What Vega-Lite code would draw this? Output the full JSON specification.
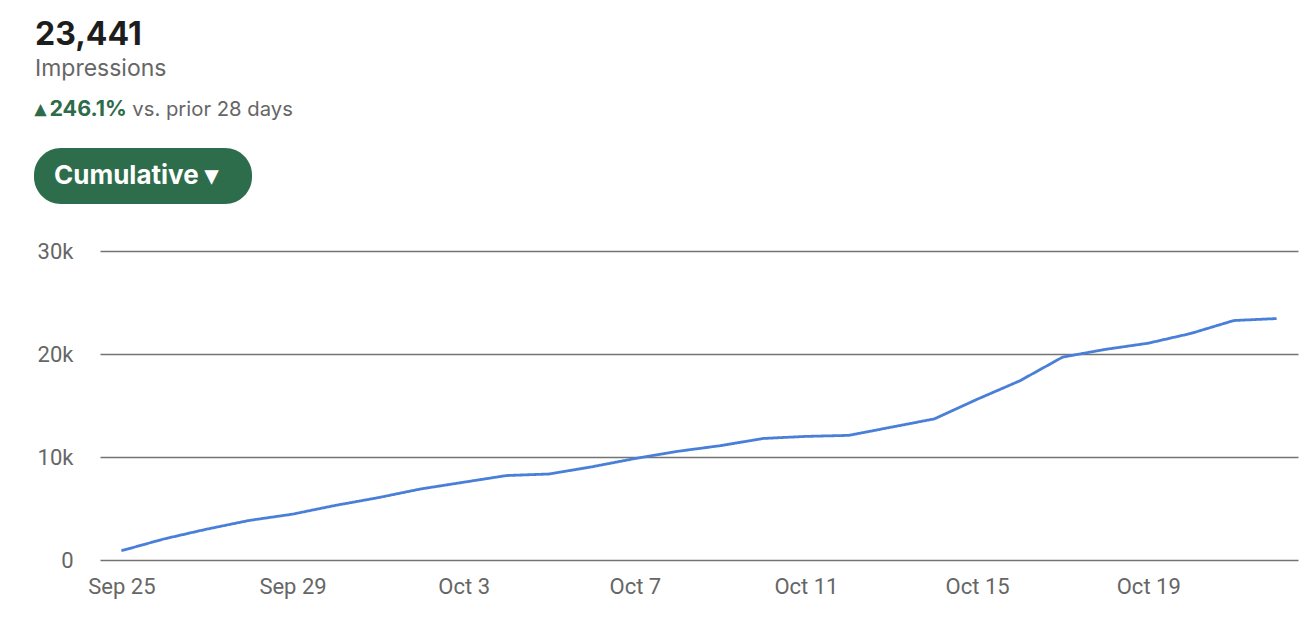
{
  "$schema": "https://vega.github.io/schema/vega-lite/v6.json",
  "autosize": {"type": "none"},
  "width": 1198,
  "height": 309,
  "padding": {"left": 100, "top": 251, "right": 10, "bottom": 70},
  "background": "white",
  "title": {
    "text": "23,441",
    "subtitle": "Impressions",
    "anchor": "start",
    "frame": "group",
    "dx": -65,
    "offset": 18,
    "font": "Inter",
    "fontSize": 32,
    "fontWeight": "bold",
    "color": "#1d1d1d",
    "subtitleFont": "Inter",
    "subtitleFontSize": 23,
    "subtitleColor": "#666666",
    "subtitlePadding": 6
  },
  "config": {"view": {"stroke": null}},
  "data": {
    "values": [
      {"date": "2023-09-25", "impressions": 900, "series": "Cumulative", "comparison": "vs. prior 28 days"},
      {"date": "2023-09-26", "impressions": 2050, "series": "Cumulative", "comparison": "vs. prior 28 days"},
      {"date": "2023-09-27", "impressions": 3000, "series": "Cumulative", "comparison": "vs. prior 28 days"},
      {"date": "2023-09-28", "impressions": 3850, "series": "Cumulative", "comparison": "vs. prior 28 days"},
      {"date": "2023-09-29", "impressions": 4450, "series": "Cumulative", "comparison": "vs. prior 28 days"},
      {"date": "2023-09-30", "impressions": 5300, "series": "Cumulative", "comparison": "vs. prior 28 days"},
      {"date": "2023-10-01", "impressions": 6050, "series": "Cumulative", "comparison": "vs. prior 28 days"},
      {"date": "2023-10-02", "impressions": 6900, "series": "Cumulative", "comparison": "vs. prior 28 days"},
      {"date": "2023-10-03", "impressions": 7550, "series": "Cumulative", "comparison": "vs. prior 28 days"},
      {"date": "2023-10-04", "impressions": 8200, "series": "Cumulative", "comparison": "vs. prior 28 days"},
      {"date": "2023-10-05", "impressions": 8350, "series": "Cumulative", "comparison": "vs. prior 28 days"},
      {"date": "2023-10-06", "impressions": 9050, "series": "Cumulative", "comparison": "vs. prior 28 days"},
      {"date": "2023-10-07", "impressions": 9850, "series": "Cumulative", "comparison": "vs. prior 28 days"},
      {"date": "2023-10-08", "impressions": 10550, "series": "Cumulative", "comparison": "vs. prior 28 days"},
      {"date": "2023-10-09", "impressions": 11100, "series": "Cumulative", "comparison": "vs. prior 28 days"},
      {"date": "2023-10-10", "impressions": 11800, "series": "Cumulative", "comparison": "vs. prior 28 days"},
      {"date": "2023-10-11", "impressions": 12000, "series": "Cumulative", "comparison": "vs. prior 28 days"},
      {"date": "2023-10-12", "impressions": 12100, "series": "Cumulative", "comparison": "vs. prior 28 days"},
      {"date": "2023-10-13", "impressions": 12900, "series": "Cumulative", "comparison": "vs. prior 28 days"},
      {"date": "2023-10-14", "impressions": 13700, "series": "Cumulative", "comparison": "vs. prior 28 days"},
      {"date": "2023-10-15", "impressions": 15600, "series": "Cumulative", "comparison": "vs. prior 28 days"},
      {"date": "2023-10-16", "impressions": 17400, "series": "Cumulative", "comparison": "vs. prior 28 days"},
      {"date": "2023-10-17", "impressions": 19700, "series": "Cumulative", "comparison": "vs. prior 28 days"},
      {"date": "2023-10-18", "impressions": 20450, "series": "Cumulative", "comparison": "vs. prior 28 days"},
      {"date": "2023-10-19", "impressions": 21050, "series": "Cumulative", "comparison": "vs. prior 28 days"},
      {"date": "2023-10-20", "impressions": 22000, "series": "Cumulative", "comparison": "vs. prior 28 days"},
      {"date": "2023-10-21", "impressions": 23250, "series": "Cumulative", "comparison": "vs. prior 28 days"},
      {"date": "2023-10-22", "impressions": 23441, "series": "Cumulative", "comparison": "vs. prior 28 days"}
    ]
  },
  "mark": {"type": "line", "strokeWidth": 2.8, "interpolate": "linear"},
  "encoding": {
    "x": {
      "field": "date",
      "type": "temporal",
      "scale": {
        "type": "utc",
        "domain": [
          {"year": 2023, "month": 9, "date": 24, "hours": 12, "utc": true},
          {"year": 2023, "month": 10, "date": 22, "hours": 12, "utc": true}
        ]
      },
      "axis": {
        "title": null,
        "values": [
          {"year": 2023, "month": 9, "date": 25, "utc": true},
          {"year": 2023, "month": 9, "date": 29, "utc": true},
          {"year": 2023, "month": 10, "date": 3, "utc": true},
          {"year": 2023, "month": 10, "date": 7, "utc": true},
          {"year": 2023, "month": 10, "date": 11, "utc": true},
          {"year": 2023, "month": 10, "date": 15, "utc": true},
          {"year": 2023, "month": 10, "date": 19, "utc": true}
        ],
        "labelExpr": "utcFormat(datum.value, '%b %-d')",
        "domain": false,
        "ticks": false,
        "grid": false,
        "labelFont": "Roboto",
        "labelFontSize": 22,
        "labelColor": "#666666",
        "labelPadding": 16
      }
    },
    "y": {
      "field": "impressions",
      "type": "quantitative",
      "scale": {"domain": [0, 30000]},
      "axis": {
        "title": null,
        "values": [0, 10000, 20000, 30000],
        "labelExpr": "datum.value == 0 ? '0' : format(datum.value / 1000, 'd') + 'k'",
        "domain": false,
        "ticks": false,
        "grid": true,
        "gridColor": "#737373",
        "gridWidth": 1.5,
        "labelFont": "Roboto",
        "labelFontSize": 22,
        "labelColor": "#666666",
        "labelPadding": 27
      }
    },
    "color": {
      "field": "series",
      "type": "nominal",
      "scale": {"range": ["#4a7fd9"]},
      "legend": {
        "orient": "none",
        "legendX": -66,
        "legendY": -103,
        "title": null,
        "fillColor": "#2d6d4b",
        "cornerRadius": 27,
        "padding": 15,
        "labelFont": "Inter",
        "labelFontSize": 26,
        "labelFontWeight": "bold",
        "labelColor": "#ffffff",
        "labelLimit": 400,
        "symbolType": "circle",
        "symbolOpacity": 0,
        "symbolSize": 1,
        "symbolStrokeWidth": 0,
        "labelOffset": -21,
        "labelExpr": "datum.label + ' ▾\u2800'"
      }
    },
    "strokeDash": {
      "field": "comparison",
      "type": "nominal",
      "scale": {"range": [[1, 0]]},
      "legend": {
        "orient": "none",
        "legendX": -65,
        "legendY": -151,
        "title": "▴\u2009246.1%",
        "titleOrient": "left",
        "titleColor": "#2e6b4a",
        "titleFont": "Inter",
        "titleFontSize": 21.5,
        "titleFontWeight": "bold",
        "titlePadding": 6,
        "titleLimit": 300,
        "labelFont": "Inter",
        "labelFontSize": 20.3,
        "labelColor": "#666666",
        "labelLimit": 400,
        "symbolType": "circle",
        "symbolOpacity": 0,
        "symbolSize": 1,
        "symbolStrokeWidth": 0,
        "labelOffset": -21,
        "padding": 0
      }
    }
  }
}
